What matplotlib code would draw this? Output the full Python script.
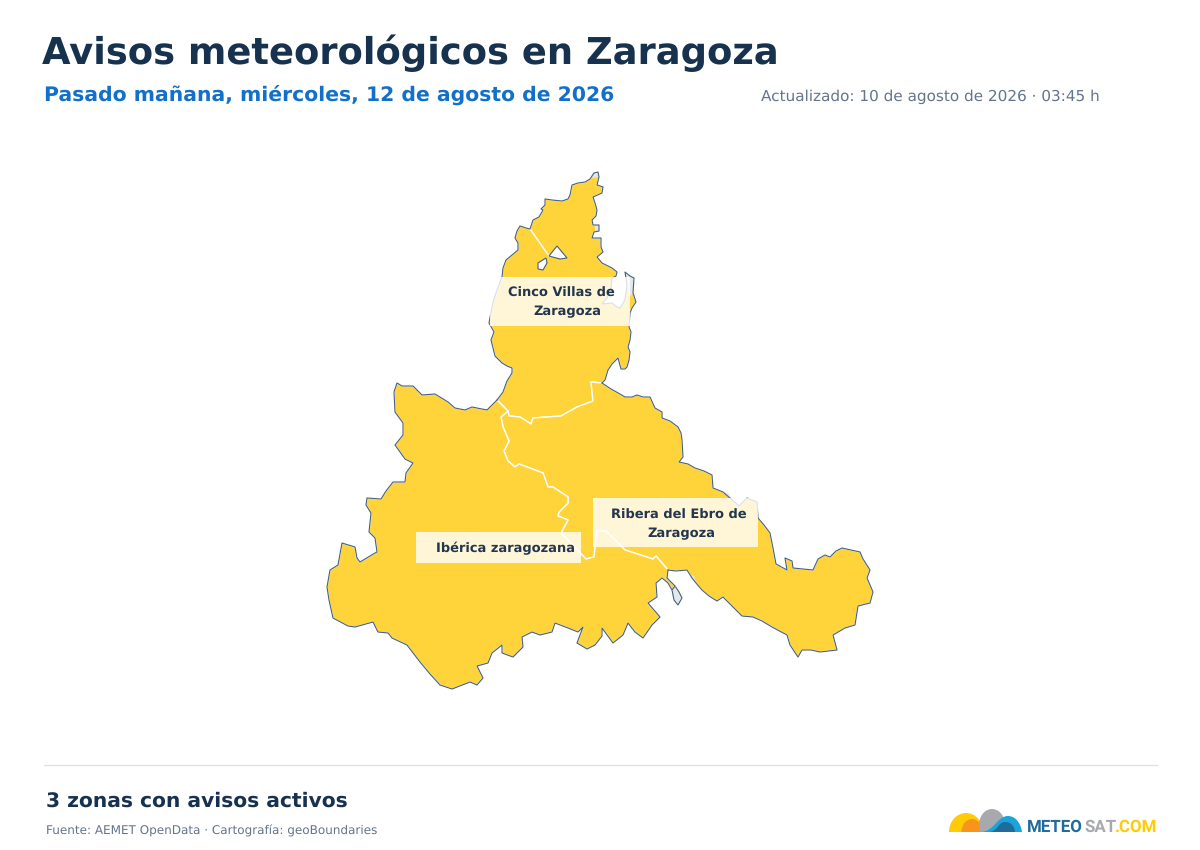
import matplotlib
matplotlib.use("Agg")
import matplotlib.pyplot as plt
from matplotlib.patches import Polygon, Rectangle, Ellipse, PathPatch
from matplotlib.path import Path

# --- text content ---
TITLE = "Avisos meteorológicos en Zaragoza"
SUBTITLE = "Pasado mañana, miércoles, 12 de agosto de 2026"
UPDATED = "Actualizado: 10 de agosto de 2026 · 03:45 h"
FOOT_BOLD = "3 zonas con avisos activos"
SOURCE = "Fuente: AEMET OpenData · Cartografía: geoBoundaries"
ZONE_LINES = [["Cinco Villas de", "Zaragoza"], ["Ribera del Ebro de", "Zaragoza"], ["Ibérica zaragozana"]]

# --- map geometry (map units) ---
cinco_outer = [(497,400),(503,392),(507,381),(512,373),(512,368),(507,366),(502,363),(495,356),(493,348),(491,340),(494,332),(489,323),(491,312),(493,302),(497,290),(502,277),(503,268),(506,260),(512,255),(518,250),(518,243),(515,238),(517,231),(520,226),(526,228),(530,229),(533,220),(539,217),(543,210),(541,209),(545,205),(545,199),(552,200),(562,201),(568,199),(570,195),(571,190),(572,185),(578,183),(585,182),(590,179),(594,173),(598,172),(599,177),(597,185),(603,187),(602,193),(593,197),(595,203),(597,210),(596,216),(592,220),(593,225),(599,225),(599,231),(594,232),(592,238),(601,238),(601,247),(603,252),(597,257),(602,263),(612,268),(617,272),(616,276),(612,278),(611,288),(607,298),(602,304),(612,303),(617,307),(620,308),(625,300),(627,285),(625,272),(630,276),(634,278),(633,293),(636,302),(632,308),(630,313),(629,327),(631,332),(630,340),(628,347),(630,352),(629,360),(627,367),(625,369),(621,369),(618,358),(612,364),(608,370),(605,380),(602,383)]
ribera_outer = [(602,383),(611,389),(620,394),(625,397),(632,397),(637,395),(643,397),(650,397),(655,408),(662,412),(662,418),(670,421),(678,427),(681,433),(682,440),(683,457),(679,462),(688,464),(695,468),(704,471),(712,475),(713,488),(723,492),(731,499),(739,506),(747,498),(757,502),(758,518),(764,525),(770,533),(773,548),(776,564),(787,570),(785,558),(792,561),(793,568),(813,570),(818,559),(825,555),(830,557),(836,551),(842,548),(860,552),(863,559),(870,570),(867,578),(873,592),(870,603),(858,606),(855,625),(845,628),(833,635),(837,650),(820,652),(811,650),(802,650),(798,657),(790,645),(787,635),(772,627),(762,621),(753,617),(742,616),(732,606),(723,597),(717,601),(709,596),(702,590),(696,583),(692,578),(687,570),(676,571),(668,570)]
iberica_outer = [(668,570),(667,578),(675,586),(672,590),(668,583),(662,578),(656,583),(657,597),(648,603),(660,617),(652,625),(643,638),(635,632),(628,623),(623,635),(613,643),(602,628),(602,636),(595,645),(587,649),(577,643),(583,627),(578,632),(568,628),(555,623),(552,632),(540,635),(532,632),(522,637),(523,647),(513,657),(502,653),(502,645),(492,653),(488,663),(477,666),(483,678),(477,685),(470,682),(452,689),(440,685),(430,674),(420,662),(407,645),(392,638),(388,633),(378,632),(373,622),(355,627),(348,626),(333,618),(329,600),(327,587),(330,570),(338,565),(342,543),(355,547),(357,558),(360,562),(375,553),(377,552),(375,538),(369,532),(371,513),(366,505),(367,498),(381,499),(386,491),(393,482),(405,482),(406,473),(413,463),(405,459),(395,445),(403,435),(403,423),(395,412),(394,392),(397,383),(402,386),(413,386),(422,395),(435,394),(448,402),(455,408),(465,410),(472,407),(487,410),(497,400)]
lake_outer = [(675,586),(679,592),(682,598),(678,605),(674,600),(672,590)]
hole_a = [(557,246),(567,258),(560,259),(549,256)]
hole_b = [(546,258),(547,263),(543,270),(538,269),(538,263)]
# parts of the province not covered by a warning zone
uncovered = [
    [(625,272),(630,276),(634,278),(633,293),(630,297),(627,285)],
    [(594,173),(598,172),(599,177),(592,178)],
    [(595,225),(599,225),(599,231),(595,232)],
    [(723,492),(731,499),(735,503),(728,493)],
    [(690,575),(692,578),(696,583),(694,576)],
]

border_ab = [(497,400),(508,411)]
border_bc = [(508,411),(509,416),(520,417),(531,424),(533,418),(561,416),(577,407),(593,401),(591,382),(602,383)]
border_bd = [(508,411),(501,417),(503,427),(509,441),(504,451),(508,461),(515,467),(519,464),(543,473),(548,487),(553,487),(568,497),(568,503),(559,512),(558,516),(568,520),(561,533),(586,559),(594,557),(597,531),(606,531),(625,550),(653,559),(656,556),(668,570)]
border_north = [(530,229),(549,256)]

zones = [
    cinco_outer + border_bc[::-1][1:] + border_ab[::-1][1:],
    ribera_outer + border_bd[::-1][1:] + border_bc[1:],
    iberica_outer + border_ab[1:] + border_bd[1:],
]

YELLOW = "#FFD33A"
OUTLINE = "#46607A"
GREYFILL = "#E3E8EE"
NAVY = "#16324F"
LABEL_DARK = "#22364D"

plt.rcParams["font.family"] = ["DejaVu Sans"]
plt.rcParams["text.hinting"] = "none"
fig = plt.figure(figsize=(12, 8.5), dpi=100, facecolor="white")
ax = fig.add_axes([0, 0, 1, 1])
ax.set_xlim(0, 1200)
ax.set_ylim(850, 0)
ax.axis("off")

# map
ax.add_patch(Polygon(lake_outer, closed=True, fc=GREYFILL, ec=OUTLINE, lw=0.8, zorder=1))
for z in zones:
    ax.add_patch(Polygon(z, closed=True, fc=YELLOW, ec="white", lw=1.0, joinstyle="round", zorder=2))
xs, ys = zip(*border_north)
ax.plot(xs, ys, color="white", lw=1.0, zorder=2.2)
for u in uncovered:
    ax.add_patch(Polygon(u, closed=True, fc=GREYFILL, ec="none", zorder=2.5))
for outer in (cinco_outer, ribera_outer, iberica_outer):
    xs, ys = zip(*outer)
    ax.plot(xs, ys, color=OUTLINE, lw=0.8, zorder=3, solid_joinstyle="round")
for h in (hole_a, hole_b):
    ax.add_patch(Polygon(h, closed=True, fc="white", ec=OUTLINE, lw=0.8, zorder=3))

# zone labels
boxes = [(490, 277, 140, 49), (593, 498, 165, 49), (416, 532, 165, 31)]
label_pos = [[(561.5, 297), (567, 315)], [(679, 519), (681, 537)], [(505, 552)]]
for lines, (bx, by, bw, bh), pos in zip(ZONE_LINES, boxes, label_pos):
    ax.add_patch(Rectangle((bx, by), bw, bh, fc="white", ec="none", alpha=0.8, zorder=4))
    for line, (tx, ty) in zip(lines, pos):
        ax.text(tx, ty, line, ha="center", va="baseline", fontsize=9.4, fontweight="bold",
                color=LABEL_DARK, zorder=5)

# header
ax.text(42, 64.5, TITLE, fontsize=26.6, fontweight="bold", color=NAVY, va="baseline", ha="left")
ax.text(44, 101, SUBTITLE, fontsize=14.65, fontweight="bold", color="#1270C9", va="baseline", ha="left")
ax.text(1100, 101, UPDATED, fontsize=11.03, color="#64748B", va="baseline", ha="right")

# footer
ax.plot([44, 1157], [765, 765], color="#DDE2E8", lw=1)
ax.text(46, 807, FOOT_BOLD, fontsize=14.57, fontweight="bold", color=NAVY, va="baseline", ha="left")
ax.text(46, 834.5, SOURCE, fontsize=8.65, color="#64748B", va="baseline", ha="left")

# logo
clip = Rectangle((940, 800), 90, 32, transform=ax.transData)
for (cx, cy, w, h, col) in [(966, 832, 34, 38, "#FFCB05"), (972, 832, 21, 26, "#F7941D"),
                            (992, 825, 26, 32, "#A7A9AC")]:
    e = Ellipse((cx, cy), w, h, fc=col, ec="none", zorder=6)
    ax.add_patch(e)
    e.set_clip_path(clip)
C4 = Path.CURVE4
wave_light = Path([(981,832),(995,831),(997,816),(1008,816),(1016,816),(1021,824),(1022,832),(981,832)],
                  [Path.MOVETO,C4,C4,C4,C4,C4,C4,Path.CLOSEPOLY])
wave_dark = Path([(990,832),(999,830),(998,822),(1005,822),(1012,822),(1015,828),(1015,832),(990,832)],
                 [Path.MOVETO,C4,C4,C4,C4,C4,C4,Path.CLOSEPOLY])
ax.add_patch(PathPatch(wave_light, fc="#1BA4DC", ec="none", zorder=7))
ax.add_patch(PathPatch(wave_dark, fc="#1F6B9A", ec="none", zorder=8))
logo_font = ["Roboto"]
ax.text(1027, 831.5, "METEO", fontsize=12.2, fontweight="bold", color="#1F6B9A", va="baseline", ha="left", family=logo_font)
ax.text(1084, 831.5, "SAT", fontsize=12.2, fontweight="bold", color="#A7A9AC", va="baseline", ha="left", family=logo_font)
ax.text(1115, 831.5, ".COM", fontsize=12.2, fontweight="bold", color="#FFCB05", va="baseline", ha="left", family=logo_font)

fig.savefig("out.png", dpi=100, facecolor="white")
